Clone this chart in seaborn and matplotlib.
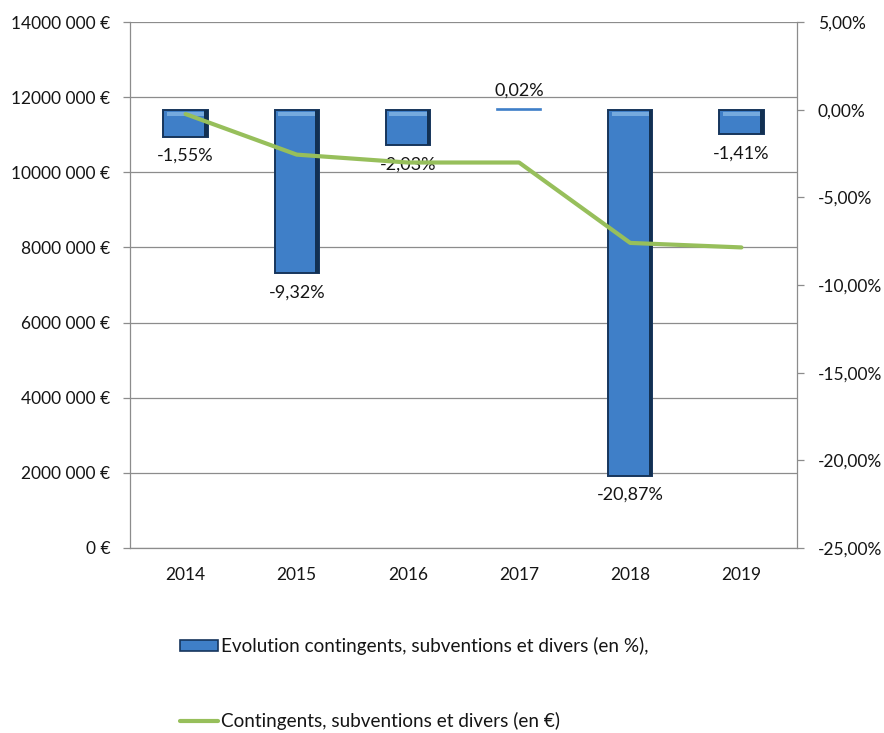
import numpy as np
import pandas as pd
import matplotlib
matplotlib.use("Agg")
import matplotlib.pyplot as plt
from matplotlib.patches import Rectangle
from matplotlib.lines import Line2D
from matplotlib.ticker import FuncFormatter, FixedLocator
import seaborn as sns

# --- data -----------------------------------------------------------------
years = ["2014", "2015", "2016", "2017", "2018", "2019"]
evolution_pct = [-1.55, -9.32, -2.03, 0.02, -20.87, -1.41]          # bars, right axis
montant_eur = [11550000, 10470000, 10260000, 10260000, 8120000, 8000000]  # line, left axis

label_bar = "Evolution contingents, subventions et divers (en %),"
label_line = "Contingents, subventions et divers (en €)"

df = pd.DataFrame({"annee": years, "evolution": evolution_pct, "montant": montant_eur})

# --- style ------------------------------------------------------------------
sns.set_theme(style="white")
plt.rcParams["font.family"] = ["Lato", "DejaVu Sans"]
text_color = "#151515"
grid_color = "#8c8c8c"
bar_color = "#3f7fc8"
bar_edge = "#16355c"
line_color = "#97bf5b"
fs = 12.5

fig = plt.figure(figsize=(8.84, 7.33), dpi=100)
rect = [130 / 884, 1 - 548 / 733, 667 / 884, 526 / 733]

# euro axis (left) carries the grid
ax = fig.add_axes(rect, zorder=0)
ax.set_xlim(-0.5, len(years) - 0.5)
ax.set_ylim(0, 14000000)
ax.yaxis.set_major_locator(FixedLocator(np.arange(0, 14000001, 2000000)))


def eur_fmt(v, _):
    v = int(round(v))
    if v == 0:
        return "0 €"
    return f"{v // 1000} 000 €"


ax.yaxis.set_major_formatter(FuncFormatter(eur_fmt))
ax.grid(axis="y", color=grid_color, linewidth=0.9)
ax.grid(axis="x", visible=False)
ax.set_xticks(range(len(years)))
ax.set_xticklabels(years)
ax.set_xticks(np.arange(-0.5, len(years)), minor=True)
ax.tick_params(axis="x", which="major", length=0, pad=14, labelsize=fs, labelcolor=text_color)
ax.tick_params(axis="x", which="minor", length=5, width=0.9, color=grid_color, direction="out")
ax.tick_params(axis="y", left=True, length=5, width=0.9, color=grid_color, pad=9,
               labelsize=fs, labelcolor=text_color)
ax.spines["top"].set_visible(False)
for side in ["left", "right", "bottom"]:
    ax.spines[side].set_color(grid_color)
    ax.spines[side].set_linewidth(0.9)

# percent axis (right) with the bars
ax_pct = ax.twinx()
ax_pct.set_zorder(1)
ax_pct.patch.set_visible(False)
sns.barplot(data=df, x="annee", y="evolution", ax=ax_pct, color=bar_color,
            width=0.4, edgecolor=bar_edge, linewidth=1.4, saturation=1)
ax_pct.set_xlim(-0.5, len(years) - 0.5)
ax_pct.set_ylim(-25, 5)
ax_pct.yaxis.set_major_locator(FixedLocator(np.arange(-25, 5.1, 5)))
ax_pct.yaxis.set_major_formatter(FuncFormatter(lambda v, _: f"{v:.2f}%".replace(".", ",")))
ax_pct.tick_params(axis="y", right=True, length=5, width=0.9, color=grid_color, pad=10,
                   labelsize=fs, labelcolor=text_color)
ax_pct.set_xlabel("")
ax_pct.set_ylabel("")
for s in ax_pct.spines.values():
    s.set_visible(False)

# bevel: soft lighter strip along the top of each bar, darker right edge
bars = ax_pct.containers[0]
for patch, val in zip(bars.patches, evolution_pct):
    x0, w = patch.get_x(), patch.get_width()
    if abs(val) < 0.1:
        patch.set_edgecolor(bar_color)
        patch.set_linewidth(1.2)
        continue
    top = max(patch.get_y(), patch.get_y() + patch.get_height())
    ax_pct.add_patch(Rectangle((x0 + w * 0.08, top - 0.38), w * 0.84, 0.22,
                               facecolor="#7fb2e2", edgecolor="none", alpha=0.85,
                               zorder=patch.get_zorder() + 0.1))
    ax_pct.add_patch(Rectangle((x0 + w * 0.92, patch.get_y()), w * 0.08, patch.get_height(),
                               facecolor="#123052", edgecolor="none", zorder=patch.get_zorder() + 0.1))

labels = [f"{v:.2f}%".replace(".", ",") for v in evolution_pct]
ax_pct.bar_label(bars, labels=labels, padding=8, fontsize=13, color=text_color)

# line on its own layer above the bars, in euro units
ax_line = fig.add_axes(rect, zorder=2)
ax_line.patch.set_visible(False)
sns.pointplot(data=df, x="annee", y="montant", ax=ax_line, color=line_color,
              markers="", linestyles="-", linewidth=3)
ax_line.set_xlim(-0.5, len(years) - 0.5)
ax_line.set_ylim(0, 14000000)
ax_line.axis("off")

# legend
h_bar = Rectangle((0, 0), 1, 1, facecolor=bar_color, edgecolor=bar_edge, linewidth=1.2)
h_line = Line2D([0], [0], color=line_color, linewidth=3)
fig.legend([h_bar, h_line], [label_bar, label_line], loc="upper left",
           bbox_to_anchor=(163 / 884, 1 - 620 / 733), frameon=False, fontsize=13.6,
           labelspacing=3.0, handlelength=2.0, handleheight=0.5, handletextpad=0.15,
           labelcolor=text_color)

fig.savefig("out.png", dpi=100)
